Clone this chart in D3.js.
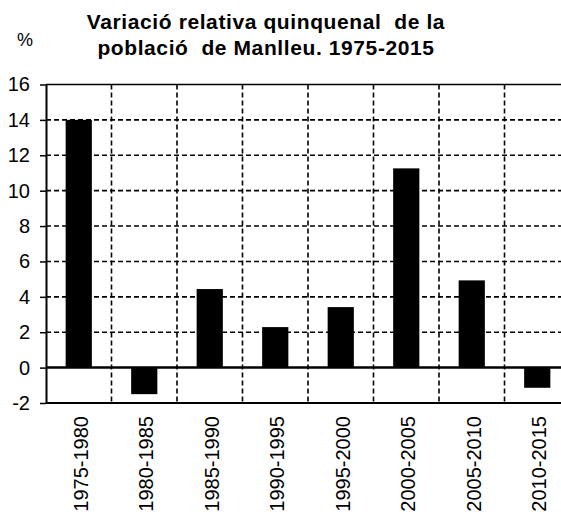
<!DOCTYPE html>
<html>
<head>
<meta charset="utf-8">
<script src="https://cdn.jsdelivr.net/npm/d3@7"></script>
<style>
  body { margin: 0; background: #fff; }
  svg { display: block; font-family: "Liberation Sans", Arial, sans-serif; }
</style>
</head>
<body>
<div id="chart"></div>
<script>
// data
var periods = ["1975-1980", "1980-1985", "1985-1990", "1990-1995",
               "1995-2000", "2000-2005", "2005-2010", "2010-2015"];
var variation = [14.0, -1.5, 4.44, 2.29, 3.42, 11.26, 4.93, -1.14];
var yTicks = [-2, 0, 2, 4, 6, 8, 10, 12, 14, 16];
var titleLines = ["Variació relativa quinquenal  de la", "població  de Manlleu. 1975-2015"];

var width = 561, height = 512;
var plotLeft = 46, plotRight = 570, plotTop = 84.5, plotBottom = 403;

var svg = d3.select("#chart")
    .append("svg")
    .attr("width", width)
    .attr("height", height);

// cells for the grid, bars sit in the middle 40%
var cell = d3.scaleBand()
    .domain(periods)
    .range([plotLeft, plotRight]);

var x = d3.scaleBand()
    .domain(periods)
    .range([plotLeft, plotRight])
    .paddingInner(0.6)
    .paddingOuter(0.3);

var y = d3.scaleLinear()
    .domain([-2, 16])
    .range([plotBottom, plotTop]);

// horizontal dashed grid
svg.append("g")
    .selectAll("line")
    .data(yTicks.filter(function (d) { return d !== 0 && d !== -2 && d !== 16; }))
    .enter()
    .append("line")
    .attr("x1", plotLeft)
    .attr("x2", plotRight)
    .attr("y1", function (d) { return y(d); })
    .attr("y2", function (d) { return y(d); })
    .attr("stroke", "#000")
    .attr("stroke-width", 1.6)
    .attr("stroke-dasharray", "5,3");

// vertical dashed grid at cell boundaries
svg.append("g")
    .selectAll("line")
    .data(periods.slice(1))
    .enter()
    .append("line")
    .attr("x1", function (d) { return cell(d); })
    .attr("x2", function (d) { return cell(d); })
    .attr("y1", plotTop)
    .attr("y2", plotBottom)
    .attr("stroke", "#000")
    .attr("stroke-width", 1.6)
    .attr("stroke-dasharray", "5,3");

// top and bottom border
svg.append("line")
    .attr("x1", plotLeft).attr("x2", plotRight)
    .attr("y1", y(16)).attr("y2", y(16))
    .attr("stroke", "#000")
    .attr("stroke-width", 1.6);

svg.append("line")
    .attr("x1", plotLeft).attr("x2", plotRight)
    .attr("y1", y(-2)).attr("y2", y(-2))
    .attr("stroke", "#000")
    .attr("stroke-width", 2);

// bars
svg.append("g")
    .selectAll("rect")
    .data(variation)
    .enter()
    .append("rect")
    .attr("x", function (d, i) { return x(periods[i]); })
    .attr("width", x.bandwidth())
    .attr("y", function (d) { return y(Math.max(0, d)); })
    .attr("height", function (d) { return Math.abs(y(d) - y(0)); })
    .attr("fill", "#000");

// zero line
svg.append("line")
    .attr("x1", plotLeft).attr("x2", plotRight)
    .attr("y1", y(0)).attr("y2", y(0))
    .attr("stroke", "#000")
    .attr("stroke-width", 2.5);

// y axis, plain hyphen for negatives like the original
var yAxis = svg.append("g")
    .attr("transform", "translate(" + plotLeft + ",0)")
    .call(d3.axisLeft(y)
        .tickValues(yTicks)
        .tickFormat(function (d) { return String(d); })
        .tickSize(6)
        .tickPadding(10)
        .tickSizeOuter(0));

yAxis.select(".domain")
    .attr("stroke-width", 2);

yAxis.selectAll(".tick line")
    .attr("stroke-width", 1.5);

yAxis.selectAll(".tick text")
    .attr("font-size", 20)
    .attr("font-family", "Liberation Sans, Arial, sans-serif")
    .attr("fill", "#000");

// category labels, rotated
svg.append("g")
    .selectAll("text")
    .data(periods)
    .enter()
    .append("text")
    .attr("transform", function (d) {
        return "translate(" + (cell(d) + cell.bandwidth() / 2) + "," + 416 + ") rotate(-90)";
    })
    .attr("dy", "0.46em")
    .attr("text-anchor", "end")
    .attr("font-size", 20)
    .attr("fill", "#000")
    .text(function (d) { return d; });

// title
svg.append("g")
    .selectAll("text")
    .data(titleLines)
    .enter()
    .append("text")
    .attr("x", 266)
    .attr("y", function (d, i) { return 28.5 + i * 26; })
    .attr("text-anchor", "middle")
    .attr("font-size", 21)
    .attr("font-weight", "bold")
    .attr("letter-spacing", 0.6)
    .style("white-space", "pre")
    .attr("fill", "#000")
    .text(function (d) { return d; });

svg.append("text")
    .attr("x", 17)
    .attr("y", 46)
    .attr("font-size", 18)
    .attr("fill", "#000")
    .text("%");
</script>
</body>
</html>
